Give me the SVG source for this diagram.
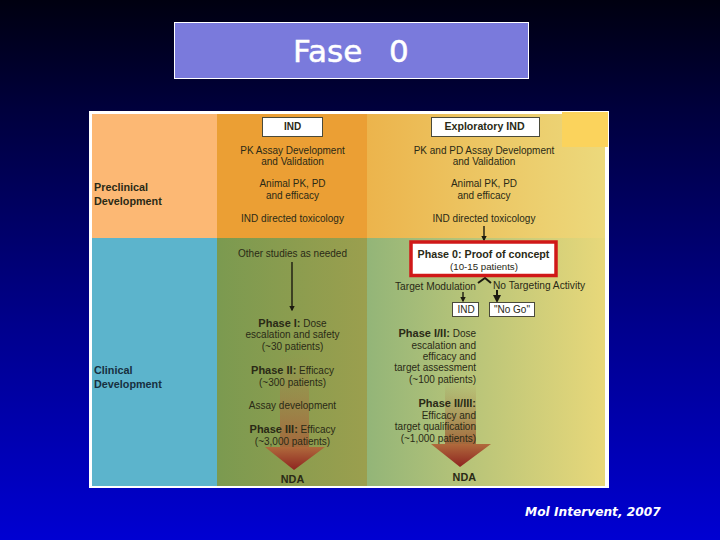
<svg xmlns="http://www.w3.org/2000/svg" width="720" height="540" viewBox="0 0 720 540">
<defs>
<linearGradient id="bg" x1="0" y1="0" x2="0" y2="1"><stop offset="0" stop-color="#000010"/><stop offset="0.2" stop-color="#00003c"/><stop offset="0.6" stop-color="#00008c"/><stop offset="1" stop-color="#0000d2"/></linearGradient>
<linearGradient id="preR" x1="0" y1="0" x2="1" y2="0"><stop offset="0" stop-color="#ecb44c"/><stop offset="1" stop-color="#ecd97c"/></linearGradient>
<linearGradient id="cliR" x1="0" y1="0" x2="1" y2="0"><stop offset="0" stop-color="#93b578"/><stop offset="1" stop-color="#e8d87a"/></linearGradient>
<linearGradient id="cliM" x1="0" y1="0" x2="1" y2="0"><stop offset="0" stop-color="#7b9a50"/><stop offset="1" stop-color="#9b9f4e"/></linearGradient>
<linearGradient id="arrowShaft" x1="0" y1="0" x2="0" y2="1"><stop offset="0" stop-color="#a8874f" stop-opacity="0"/><stop offset="1" stop-color="#a3683c"/></linearGradient>
<linearGradient id="arrowHead" x1="0" y1="0" x2="0" y2="1"><stop offset="0" stop-color="#b06a3c"/><stop offset="1" stop-color="#8e2420"/></linearGradient>
<marker id="ah" markerWidth="4" markerHeight="4" refX="3" refY="2" orient="auto"><path d="M0 0L4 2L0 4Z" fill="#1c1a10"/></marker>
</defs>
<style>
text{font-family:"Liberation Sans",Arial,sans-serif;fill:#2a2a16;font-size:10px}
.m{text-anchor:middle}.e{text-anchor:end}
.b{font-weight:bold}
.h{font-weight:bold;font-size:11px}
.lab{font-weight:bold;font-size:10.800px}
.box{fill:#fff;stroke:#4a4a3a;stroke-width:1}
.ln{stroke:#1c1a10;stroke-width:1.400;fill:none}
</style>
<rect width="720" height="540" fill="url(#bg)"/>
<g id="title"><rect x="174.500" y="22.500" width="354" height="56" fill="#7a7adc" stroke="#fff"/>
<text y="62" style="font-family:'DejaVu Sans',sans-serif;font-size:31px;fill:#fff;stroke:#fff;stroke-width:0.500"><tspan x="293">Fase</tspan><tspan x="389">0</tspan></text></g>
<g id="panel">
<rect x="89" y="111" width="520" height="377" fill="#fff"/>
<rect x="92" y="114" width="125" height="124" fill="#fcb874"/>
<rect x="217" y="114" width="150" height="124" fill="#eb9f34"/>
<rect x="367" y="114" width="238" height="124" fill="url(#preR)"/>
<rect x="92" y="238" width="125" height="248" fill="#5cb4cc"/>
<rect x="217" y="238" width="150" height="248" fill="url(#cliM)"/>
<rect x="367" y="238" width="238" height="248" fill="url(#cliR)"/>
<rect x="562" y="112" width="46" height="35" fill="#fbd35c"/>
</g>
<g id="big-arrows">
<rect x="280" y="353" width="29" height="94" fill="url(#arrowShaft)"/>
<path d="M265 447H325L294 470Z" fill="url(#arrowHead)"/>
<rect x="445" y="382" width="31" height="62" fill="url(#arrowShaft)"/>
<path d="M431 444H491L460 467Z" fill="url(#arrowHead)"/>
</g>
<g id="connectors">
<path class="ln" d="M292 262V310" marker-end="url(#ah)"/>
<path class="ln" d="M484 226V240" marker-end="url(#ah)"/>
<path class="ln" d="M463 292V301" marker-end="url(#ah)"/>
<path class="ln" d="M497 290V301" marker-end="url(#ah)" style="stroke-width:2"/>
<path class="ln" d="M478 283L485 278L491 283" style="stroke-width:2"/>
</g>
<g id="labels-left">
<text x="94" y="191" class="lab">Preclinical</text>
<text x="94" y="205" class="lab">Development</text>
<text x="94" y="374" class="lab" style="fill:#173040">Clinical</text>
<text x="94" y="388" class="lab" style="fill:#173040">Development</text>
</g>
<g id="ind"><rect class="box" x="262.500" y="117.500" width="60" height="19"/><text x="292.500" y="130" class="m b">IND</text></g>
<g id="ind-text">
<text x="292.500" y="154" class="m">PK Assay Development</text>
<text x="292.500" y="165" class="m">and Validation</text>
<text x="292.500" y="187" class="m">Animal PK, PD</text>
<text x="292.500" y="199" class="m">and efficacy</text>
<text x="292.500" y="222" class="m">IND directed toxicology</text>
<text x="292.500" y="257" class="m">Other studies as needed</text>
</g>
<g id="clinical-middle">
<text x="292.500" y="327" class="m"><tspan class="h">Phase I:</tspan> Dose</text>
<text x="292.500" y="338" class="m">escalation and safety</text>
<text x="292.500" y="350" class="m">(~30 patients)</text>
<text x="292.500" y="374" class="m"><tspan class="h">Phase II:</tspan> Efficacy</text>
<text x="292.500" y="386" class="m">(~300 patients)</text>
<text x="292.500" y="409" class="m">Assay development</text>
<text x="292.500" y="433" class="m"><tspan class="h">Phase III:</tspan> Efficacy</text>
<text x="292.500" y="445" class="m">(~3,000 patients)</text>
<text x="292.500" y="483" class="m lab">NDA</text>
</g>
<g id="exploratory-ind"><rect class="box" x="431.500" y="117.500" width="108" height="19"/><text x="484.500" y="130" class="m b" style="font-size:10.600px">Exploratory IND</text></g>
<g id="exploratory-text">
<text x="484" y="154" class="m">PK and PD Assay Development</text>
<text x="484" y="165" class="m">and Validation</text>
<text x="484" y="187" class="m">Animal PK, PD</text>
<text x="484" y="199" class="m">and efficacy</text>
<text x="484" y="222" class="m">IND directed toxicology</text>
</g>
<g id="phase0"><rect x="411" y="242" width="145" height="33.500" fill="#fff" stroke="#d01818" stroke-width="3.500"/>
<text x="483.500" y="258" class="m b" style="font-size:10.700px">Phase 0: Proof of concept</text>
<text x="484" y="270" class="m" style="font-size:9.700px">(10-15 patients)</text></g>
<g id="target-labels">
<text x="476" y="290" class="e" style="font-size:10.200px">Target Modulation</text>
<text x="493" y="289" style="font-size:10.200px">No Targeting Activity</text>
</g>
<g id="ind2"><rect class="box" x="452.500" y="302.500" width="26" height="14"/><text x="466" y="313" class="m">IND</text></g>
<g id="nogo"><rect class="box" x="489.500" y="302.500" width="45" height="14"/><text x="512" y="313" class="m">"No Go"</text></g>
<g id="clinical-right">
<text x="476" y="337" class="e"><tspan class="h">Phase I/II:</tspan> Dose</text>
<text x="476" y="349" class="e">escalation and</text>
<text x="476" y="360" class="e">efficacy and</text>
<text x="476" y="371" class="e">target assessment</text>
<text x="476" y="383" class="e">(~100 patients)</text>
<text x="476" y="407" class="e h">Phase II/III:</text>
<text x="476" y="419" class="e">Efficacy and</text>
<text x="476" y="430" class="e">target qualification</text>
<text x="476" y="442" class="e">(~1,000 patients)</text>
<text x="476" y="481" class="e lab">NDA</text>
</g>
<text x="525" y="516" style="font-family:'DejaVu Sans',sans-serif;font-style:italic;font-weight:bold;font-size:12.200px;fill:#fff">Mol Intervent, 2007</text>
</svg>
